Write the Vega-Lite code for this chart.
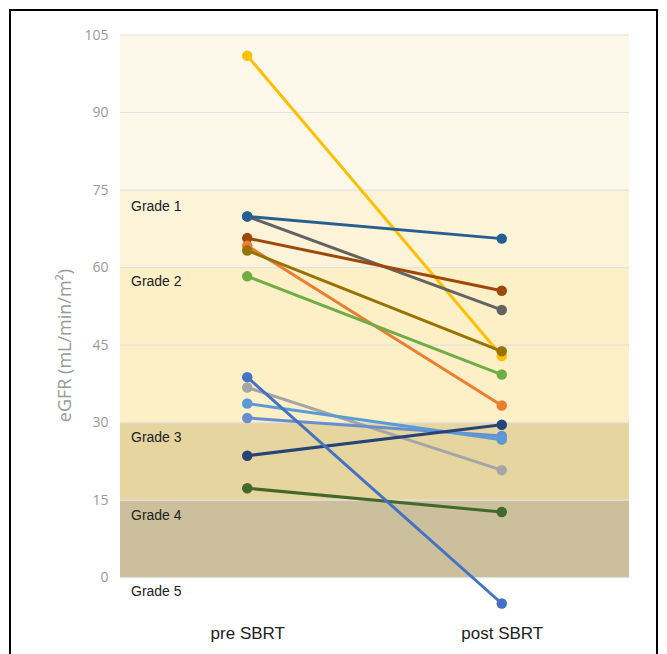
{
  "$schema": "https://vega.github.io/schema/vega-lite/v6.json",
  "autosize": "none",
  "padding": {"left": 120, "top": 35, "right": 38, "bottom": 35},
  "width": 509,
  "height": 584,
  "background": "white",
  "config": {"view": {"stroke": null}, "font": "Liberation Sans"},
  "datasets": {
    "bands": [
      {"lo": 75, "hi": 105, "band": "g1top"},
      {"lo": 60, "hi": 75, "band": "g1"},
      {"lo": 30, "hi": 60, "band": "g2"},
      {"lo": 15, "hi": 30, "band": "g3"},
      {"lo": 0, "hi": 15, "band": "g4"}
    ],
    "ticks": [{"v": 0}, {"v": 15}, {"v": 30}, {"v": 45}, {"v": 60}, {"v": 75}, {"v": 90}, {"v": 105}],
    "grades": [
      {"label": "Grade 1", "pos": 71.7},
      {"label": "Grade 2", "pos": 57.2},
      {"label": "Grade 3", "pos": 27.1},
      {"label": "Grade 4", "pos": 12.0},
      {"label": "Grade 5", "pos": -2.7}
    ],
    "frame": [{"f": 1}],
    "egfr": [
      {"id": "p01", "time": "pre SBRT", "egfr": 101.0}, {"id": "p01", "time": "post SBRT", "egfr": 42.9},
      {"id": "p02", "time": "pre SBRT", "egfr": 69.9}, {"id": "p02", "time": "post SBRT", "egfr": 51.8},
      {"id": "p03", "time": "pre SBRT", "egfr": 69.9}, {"id": "p03", "time": "post SBRT", "egfr": 65.6},
      {"id": "p04", "time": "pre SBRT", "egfr": 65.7}, {"id": "p04", "time": "post SBRT", "egfr": 55.5},
      {"id": "p05", "time": "pre SBRT", "egfr": 64.2}, {"id": "p05", "time": "post SBRT", "egfr": 33.3},
      {"id": "p06", "time": "pre SBRT", "egfr": 63.3}, {"id": "p06", "time": "post SBRT", "egfr": 43.8},
      {"id": "p07", "time": "pre SBRT", "egfr": 58.3}, {"id": "p07", "time": "post SBRT", "egfr": 39.3},
      {"id": "p08", "time": "pre SBRT", "egfr": 36.8}, {"id": "p08", "time": "post SBRT", "egfr": 20.8},
      {"id": "p09", "time": "pre SBRT", "egfr": 30.9}, {"id": "p09", "time": "post SBRT", "egfr": 27.4},
      {"id": "p10", "time": "pre SBRT", "egfr": 33.7}, {"id": "p10", "time": "post SBRT", "egfr": 26.7},
      {"id": "p11", "time": "pre SBRT", "egfr": 23.6}, {"id": "p11", "time": "post SBRT", "egfr": 29.6},
      {"id": "p12", "time": "pre SBRT", "egfr": 17.3}, {"id": "p12", "time": "post SBRT", "egfr": 12.7},
      {"id": "p13", "time": "pre SBRT", "egfr": 38.8}, {"id": "p13", "time": "post SBRT", "egfr": -5.0}
    ]
  },
  "resolve": {"scale": {"x": "independent", "color": "independent"}},
  "layer": [
    {
      "data": {"name": "bands"},
      "mark": {"type": "rect"},
      "encoding": {
        "y": {"field": "lo", "type": "quantitative", "scale": {"domain": [-8, 105], "nice": false, "zero": false}, "axis": {
          "values": [0, 15, 30, 45, 60, 75, 90, 105], "grid": false, "domain": false, "ticks": false,
          "labelColor": "#9a9a9a", "labelFontSize": 14, "labelPadding": 12, "labelFont": "Open Sans",
          "title": "eGFR (mL/min/m²)", "titleColor": "#9a9a9a", "titleFontWeight": "normal", "titleFontSize": 18, "titleFont": "Open Sans", "titlePadding": 9, "titleY": 310
        }},
        "y2": {"field": "hi"},
        "color": {"field": "band", "type": "nominal", "legend": null, "scale": {
          "domain": ["g1top", "g1", "g2", "g3", "g4"],
          "range": ["#FEF8EA", "#FDF3D9", "#FDF0C7", "#E6D59E", "#CCBF9B"]
        }}
      }
    },
    {
      "data": {"name": "ticks"},
      "mark": {"type": "rule", "color": "#e2e2e2", "strokeWidth": 1.2},
      "encoding": {"y": {"field": "v", "type": "quantitative"}}
    },
    {
      "data": {"name": "grades"},
      "mark": {"type": "text", "align": "left", "baseline": "middle", "dx": 11, "fontSize": 14, "color": "#222", "font": "Liberation Sans"},
      "encoding": {
        "x": {"datum": 0, "type": "quantitative", "scale": {"domain": [0, 1]}, "axis": null},
        "y": {"field": "pos", "type": "quantitative"},
        "text": {"field": "label"}
      }
    },
    {
      "data": {"name": "egfr"},
      "layer": [
        {"mark": {"type": "line", "strokeWidth": 3}},
        {"mark": {"type": "point", "filled": true, "size": 110, "opacity": 1}}
      ],
      "encoding": {
        "x": {"field": "time", "type": "nominal", "sort": ["pre SBRT", "post SBRT"], "scale": {"type": "point", "padding": 0.5},
          "axis": {"title": null, "domain": false, "ticks": false, "labelAngle": 0, "labelFontSize": 17, "labelColor": "#222", "labelPadding": 6, "labelFont": "Liberation Sans"}},
        "y": {"field": "egfr", "type": "quantitative"},
        "color": {"field": "id", "type": "nominal", "legend": null, "scale": {
          "domain": ["p01", "p02", "p03", "p04", "p05", "p06", "p07", "p08", "p09", "p10", "p11", "p12", "p13"],
          "range": ["#FFC000", "#636363", "#255E91", "#9E480E", "#ED7D31", "#997300", "#70AD47", "#A5A5A5", "#698ED0", "#5B9BD5", "#264478", "#43682B", "#4472C4"]
        }}
      }
    },
    {
      "data": {"name": "frame"},
      "mark": {"type": "rect", "filled": false, "stroke": "black", "strokeWidth": 2, "clip": false,
        "x": -110, "x2": 537, "y": -25, "y2": 640}
    }
  ]
}
